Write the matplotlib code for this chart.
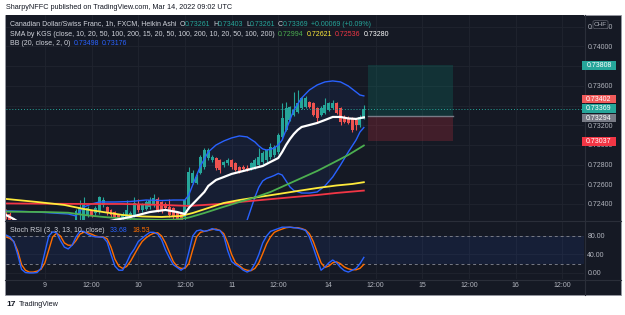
import numpy as np
import matplotlib
matplotlib.use('Agg')
import matplotlib.pyplot as plt
from matplotlib.patches import Rectangle, FancyBboxPatch
from matplotlib.lines import Line2D

plt.rcParams['font.family'] = ['Liberation Sans', 'DejaVu Sans']

W, H = 625, 315

# colours (TradingView dark theme)
BG = '#151924'
GRID = '#20242f'
SEP = '#2a2e39'
TXT = '#d1d4dc'
AXT = '#b2b5be'
TEAL = '#26a69a'
RED = '#ef5350'
BLUE = '#2962ff'
ORANGE = '#ff6d00'

# ---------------- data (bar index: 0 = Mar 9 00:00, 1h bars) ----------------
bar_idx = list(range(-10, 83))
ha_open = [0.72339, 0.72300, 0.72250, 0.72200, 0.72150, 0.72110, 0.72080, 0.72050, 0.72070, 0.72095,
           0.72120, 0.72150, 0.72170, 0.72185, 0.72165, 0.72140, 0.72120, 0.72140, 0.72180, 0.72300,
           0.72237, 0.72288, 0.72330, 0.72308, 0.72318, 0.72390, 0.72369, 0.72339, 0.72318, 0.72288,
           0.72255, 0.72268, 0.72260, 0.72288, 0.72390, 0.72339, 0.72350, 0.72369, 0.72390, 0.72450,
           0.72420, 0.72400, 0.72369, 0.72359, 0.72318, 0.72308, 0.72268, 0.72369, 0.72613, 0.72613,
           0.72715, 0.72776, 0.72867, 0.72847, 0.72867, 0.72847, 0.72796, 0.72816, 0.72847, 0.72816,
           0.72776, 0.72775, 0.72770, 0.72766, 0.72776, 0.72796, 0.72827, 0.72847, 0.72877, 0.72898,
           0.72928, 0.73081, 0.73152, 0.73253, 0.73304, 0.73335, 0.73375, 0.73385, 0.73436, 0.73426,
           0.73375, 0.73304, 0.73324, 0.73355, 0.73375, 0.73426, 0.73375, 0.73284, 0.73274, 0.73274,
           0.73253, 0.73202, 0.73261]
ha_high = [0.72350, 0.72320, 0.72260, 0.72210, 0.72160, 0.72120, 0.72090, 0.72110, 0.72140, 0.72170,
           0.72200, 0.72220, 0.72225, 0.72200, 0.72175, 0.72150, 0.72180, 0.72220, 0.72350, 0.72440,
           0.72470, 0.72380, 0.72340, 0.72380, 0.72480, 0.72470, 0.72380, 0.72350, 0.72330, 0.72300,
           0.72320, 0.72440, 0.72330, 0.72470, 0.72450, 0.72410, 0.72440, 0.72470, 0.72500, 0.72470,
           0.72430, 0.72420, 0.72450, 0.72370, 0.72330, 0.72320, 0.72460, 0.72776, 0.72745, 0.72700,
           0.72898, 0.72969, 0.72969, 0.72900, 0.72880, 0.72860, 0.72840, 0.72870, 0.72860, 0.72830,
           0.72790, 0.72800, 0.72800, 0.72830, 0.72870, 0.72969, 0.72935, 0.72960, 0.73020, 0.73000,
           0.73120, 0.73426, 0.73436, 0.73400, 0.73540, 0.73560, 0.73490, 0.73500, 0.73450, 0.73440,
           0.73390, 0.73395, 0.73477, 0.73440, 0.73456, 0.73436, 0.73385, 0.73300, 0.73290, 0.73285,
           0.73265, 0.73300, 0.73403]
ha_low = [0.72250, 0.72190, 0.72150, 0.72100, 0.72050, 0.72020, 0.72000, 0.72030, 0.72050, 0.72080,
          0.72100, 0.72130, 0.72150, 0.72120, 0.72090, 0.72080, 0.72100, 0.72120, 0.72160, 0.72190,
          0.72220, 0.72270, 0.72270, 0.72290, 0.72300, 0.72370, 0.72290, 0.72270, 0.72250, 0.72200,
          0.72230, 0.72250, 0.72240, 0.72270, 0.72320, 0.72320, 0.72340, 0.72350, 0.72370, 0.72320,
          0.72310, 0.72340, 0.72270, 0.72250, 0.72210, 0.72200, 0.72230, 0.72350, 0.72600, 0.72600,
          0.72700, 0.72760, 0.72850, 0.72830, 0.72750, 0.72715, 0.72780, 0.72800, 0.72760, 0.72730,
          0.72710, 0.72730, 0.72730, 0.72750, 0.72760, 0.72780, 0.72810, 0.72830, 0.72860, 0.72880,
          0.72910, 0.73060, 0.73140, 0.73240, 0.73290, 0.73320, 0.73360, 0.73370, 0.73370, 0.73290,
          0.73223, 0.73290, 0.73310, 0.73340, 0.73365, 0.73310, 0.73202, 0.73220, 0.73210, 0.73131,
          0.73152, 0.73180, 0.73261]
ha_close = [0.72270, 0.72220, 0.72170, 0.72120, 0.72080, 0.72050, 0.72030, 0.72090, 0.72120, 0.72150,
            0.72180, 0.72190, 0.72200, 0.72140, 0.72110, 0.72100, 0.72160, 0.72200, 0.72330, 0.72369,
            0.72390, 0.72359, 0.72288, 0.72359, 0.72470, 0.72440, 0.72308, 0.72288, 0.72268, 0.72237,
            0.72300, 0.72339, 0.72308, 0.72410, 0.72339, 0.72390, 0.72420, 0.72440, 0.72460, 0.72339,
            0.72330, 0.72360, 0.72288, 0.72268, 0.72240, 0.72237, 0.72440, 0.72725, 0.72715, 0.72674,
            0.72877, 0.72948, 0.72948, 0.72877, 0.72766, 0.72745, 0.72827, 0.72847, 0.72776, 0.72745,
            0.72725, 0.72760, 0.72755, 0.72816, 0.72847, 0.72877, 0.72918, 0.72948, 0.72979, 0.72979,
            0.73101, 0.73274, 0.73375, 0.73385, 0.73355, 0.73426, 0.73477, 0.73477, 0.73385, 0.73304,
            0.73274, 0.73375, 0.73406, 0.73426, 0.73426, 0.73324, 0.73233, 0.73233, 0.73223, 0.73152,
            0.73202, 0.73284, 0.73369]

# SMA by KGS lines (bar index, value)
white_x = [-10, -8, -6, 0, 7, 13, 18, 22, 27, 31, 34, 36, 37, 39, 41, 42, 44, 46, 48, 50,
           52, 54, 56, 58, 60, 61, 62, 63, 64, 65, 66, 68, 70, 72, 74, 76, 78, 80, 82]
white_y = [0.72288, 0.72247, 0.72196, 0.72135, 0.72135, 0.72196, 0.72237, 0.72268, 0.72318, 0.72339,
           0.72318, 0.72298, 0.72359, 0.72440, 0.72522, 0.72583, 0.72644, 0.72674, 0.72705, 0.72725,
           0.72745, 0.72766, 0.72786, 0.72827, 0.72867, 0.72928, 0.72999, 0.73060, 0.73111, 0.73152,
           0.73182, 0.73202, 0.73223, 0.73253, 0.73284, 0.73284, 0.73269, 0.73264, 0.73280]
green_x = [-10, 0, 6, 10, 15, 20, 25, 30, 34, 37, 41, 45, 50, 54, 58, 62, 66, 70, 74, 78, 82]
green_y = [0.72322, 0.72318, 0.72311, 0.72288, 0.72268, 0.72253, 0.72242, 0.72237, 0.72242, 0.72262,
           0.72308, 0.72359, 0.72420, 0.72466, 0.72522, 0.72593, 0.72664, 0.72735, 0.72816, 0.72898,
           0.72994]
yellow_x = [-10, -2, 5, 10, 15, 20, 25, 30, 35, 38, 42, 46, 50, 55, 60, 65, 70, 75, 79, 82]
yellow_y = [0.72451, 0.72420, 0.72390, 0.72349, 0.72318, 0.72288, 0.72273, 0.72268, 0.72278, 0.72308,
            0.72359, 0.72410, 0.72440, 0.72471, 0.72501, 0.72532, 0.72562, 0.72588, 0.72603, 0.72621]
red_x = [-10, 10, 20, 30, 37, 45, 50, 55, 60, 65, 70, 75, 82]
red_y = [0.72405, 0.72400, 0.72400, 0.72390, 0.72380, 0.72400, 0.72420, 0.72438, 0.72456, 0.72474,
         0.72491, 0.72512, 0.72536]

# Bollinger bands (20, 2)
bb_x = [-10, -6, -2, 2, 6, 8, 9, 10, 12, 14, 18, 22, 26, 30, 33, 36, 37, 38, 40, 42,
        44, 46, 48, 50, 52, 54, 55, 56, 57, 58, 59, 60, 61, 62, 63, 64, 66, 68, 70, 72,
        74, 76, 78, 80, 81, 82]
bb_upper = [0.72329, 0.72325, 0.72318, 0.72308, 0.72298, 0.72278, 0.72329, 0.72369, 0.72400, 0.72420,
            0.72420, 0.72425, 0.72440, 0.72435, 0.72440, 0.72440, 0.72491, 0.72593, 0.72786, 0.72928,
            0.72999, 0.73040, 0.73071, 0.73091, 0.73081, 0.73030, 0.72990, 0.72959, 0.72948, 0.72955,
            0.72969, 0.73000, 0.73050, 0.73152, 0.73253, 0.73355, 0.73477, 0.73558, 0.73609, 0.73640,
            0.73650, 0.73640, 0.73599, 0.73538, 0.73507, 0.73498]
bb_lower = [0.72150, 0.72140, 0.72130, 0.72120, 0.72125, 0.72120, 0.72110, 0.72100, 0.72095, 0.72090,
            0.72100, 0.72110, 0.72120, 0.72130, 0.72140, 0.72150, 0.72130, 0.72080, 0.71950, 0.71850,
            0.71800, 0.71800, 0.71880, 0.72050, 0.72237, 0.72470, 0.72570, 0.72634, 0.72660, 0.72674,
            0.72690, 0.72710, 0.72694, 0.72634, 0.72573, 0.72537, 0.72511, 0.72511, 0.72522, 0.72583,
            0.72674, 0.72796, 0.72928, 0.73050, 0.73131, 0.73176]

# Stoch RSI (3, 3, 13, 10)
stoch_k = [82, 78, 68, 40, 8, 1, 0, 0, 1, 10,
           45, 80, 89, 87, 70, 56, 52, 60, 78, 90,
           90, 84, 80, 78, 78, 77, 67, 40, 15, 6,
           6, 22, 40, 52, 68, 75, 82, 88, 88, 84,
           72, 50, 33, 18, 12, 6, 12, 45, 80, 91,
           93, 90, 92, 96, 93, 92, 80, 48, 25, 18,
           13, 6, 2, 6, 20, 40, 65, 80, 90, 93,
           96, 99, 99, 99, 98, 97, 95, 92, 78, 55,
           30, 6, 13, 22, 28, 22, 12, 5, 2, 6,
           10, 20, 33.68]
stoch_d = [78, 75, 68, 48, 18, 6, 2, 2, 4, 8,
           22, 50, 78, 86, 80, 65, 60, 60, 70, 84,
           88, 87, 84, 80, 78, 78, 74, 56, 30, 15,
           10, 14, 25, 40, 55, 68, 76, 82, 86, 87,
           80, 65, 45, 25, 14, 10, 10, 20, 50, 78,
           88, 90, 92, 94, 95, 92, 85, 65, 40, 22,
           16, 9, 6, 5, 10, 22, 42, 63, 78, 88,
           92, 95, 98, 99, 98, 98, 96, 93, 85, 68,
           45, 22, 12, 15, 22, 24, 20, 13, 9, 7,
           7, 10, 18.53]

# long position tool
pos_start, pos_end = 83, 105
entry, target, stop = 0.73294, 0.73808, 0.73037
last_price = 0.73369

# price scale badges
badge_vals = [0.73808, 0.73402, 0.73369, 0.73294, 0.73037]
badge_cols = [TEAL, '#f05b5b', TEAL, '#787b86', '#f23645']

# axes ticks
time_tick_pos = [0, 12, 24, 36, 48, 60, 73, 85, 97, 109, 121, 133]
time_tick_lbl = ['9', '12:00', '10', '12:00', '11', '12:00', '14', '12:00', '15', '12:00', '16', '12:00']
price_ticks = [0.724, 0.726, 0.728, 0.730, 0.732, 0.734, 0.736, 0.738, 0.740, 0.742]
price_hidden = [0.734, 0.738]   # labels fully covered by the badges
stoch_ticks = [0, 40, 80]

# ---------------- figure ----------------
fig = plt.figure(figsize=(W / 100, H / 100), dpi=100, facecolor='white')


def fx(px):
    return px / W


def fy(py):
    return 1 - py / H


fig.add_artist(Rectangle((fx(5), fy(295)), 616 / W, 280 / H, transform=fig.transFigure,
                         facecolor=BG, edgecolor='#9598a1', lw=0.6, zorder=-2))

ax = fig.add_axes([fx(6), fy(220), 578 / W, 205 / H])
ax2 = fig.add_axes([fx(6), fy(279), 578 / W, 58 / H], sharex=ax)
for a in (ax, ax2):
    a.set_facecolor(BG)
    for s in a.spines.values():
        s.set_visible(False)
    a.grid(True, color=GRID, lw=0.6)
    a.set_axisbelow(True)

ax.set_xlim(-10, 138.6)
ax.set_ylim(0.72237, 0.74320)
ax2.set_ylim(-13, 112.4)

# candles
bx = np.array(bar_idx)
o = np.array(ha_open)
hi = np.array(ha_high)
lo = np.array(ha_low)
c = np.array(ha_close)
cols = np.where(c >= o, TEAL, RED)
ax.vlines(bx, lo, hi, colors=cols, lw=0.8, zorder=2)
ax.bar(bx, np.maximum(np.abs(c - o), 0.00008), bottom=np.minimum(o, c), width=0.76,
       color=cols, lw=0, zorder=2)

# bollinger
ax.fill_between(bb_x, bb_lower, bb_upper, color=BLUE, alpha=0.07, lw=0, zorder=1)
ax.plot(bb_x, bb_upper, color=BLUE, lw=1.0, zorder=3)
ax.plot(bb_x, bb_lower, color=BLUE, lw=1.0, zorder=3)

# SMAs
ax.plot(red_x, red_y, color='#f23645', lw=1.3, zorder=3)
ax.plot(yellow_x, yellow_y, color='#ffeb3b', lw=1.3, zorder=3)
ax.plot(green_x, green_y, color='#4caf50', lw=1.3, zorder=3)
ax.plot(white_x, white_y, color='white', lw=1.6, zorder=4)

# current price line
ax.axhline(last_price, color=TEAL, lw=0.7, ls=(0, (1, 2)), zorder=3)

# position tool
ax.add_patch(Rectangle((pos_start, entry), pos_end - pos_start, target - entry,
                       facecolor='#089981', alpha=0.2, lw=0, zorder=1))
ax.add_patch(Rectangle((pos_start, stop), pos_end - pos_start, entry - stop,
                       facecolor='#f23645', alpha=0.2, lw=0, zorder=1))
ax.plot([pos_start, pos_end], [entry, entry], color='#787b86', lw=1.0, zorder=2)

# price axis
ax.yaxis.tick_right()
ax.set_yticks(price_ticks, ['' if v in price_hidden else f'{v:.5f}' for v in price_ticks])
ax.tick_params(axis='y', length=0, pad=2.4, labelsize=5, labelcolor=AXT)
ax.tick_params(axis='x', length=0, labelbottom=False)

# stoch pane
ax2.axhspan(20, 80, color=BLUE, alpha=0.09, lw=0)
ax2.axhline(80, color='#787b86', lw=0.7, ls=(0, (3, 3)))
ax2.axhline(20, color='#787b86', lw=0.7, ls=(0, (3, 3)))
ax2.plot(bar_idx, stoch_d, color=ORANGE, lw=1.0, zorder=3)
ax2.plot(bar_idx, stoch_k, color=BLUE, lw=1.0, zorder=3)
ax2.yaxis.tick_right()
ax2.set_yticks(stoch_ticks, [f'{v:.2f}' for v in stoch_ticks])
ax2.tick_params(axis='y', length=0, pad=2.4, labelsize=5, labelcolor=AXT)
ax2.set_xticks(time_tick_pos, time_tick_lbl)
ax2.tick_params(axis='x', length=0, pad=2.5, labelsize=5, labelcolor=AXT)

# separators
fig.add_artist(Line2D([fx(5), fx(621)], [fy(220.5), fy(220.5)], transform=fig.transFigure, color=SEP, lw=0.8))
fig.add_artist(Line2D([fx(5), fx(621)], [fy(279.5), fy(279.5)], transform=fig.transFigure, color=SEP, lw=0.8))
fig.add_artist(Line2D([fx(584.5), fx(584.5)], [fy(15), fy(295)], transform=fig.transFigure, color=SEP, lw=0.8))

fig.canvas.draw()
rend = fig.canvas.get_renderer()

# price badges, stacked around the last price
nat = [H - ax.transData.transform((0, v))[1] for v in badge_vals]
ref = badge_vals.index(last_price)
ypos = list(nat)
gap = 9.5
for k in range(ref - 1, -1, -1):
    ypos[k] = min(nat[k], ypos[k + 1] - gap)
for k in range(ref + 1, len(badge_vals)):
    ypos[k] = max(nat[k], ypos[k - 1] + gap)
for v, col, yy in zip(badge_vals, badge_cols, ypos):
    fig.add_artist(Rectangle((fx(582), fy(yy + 4.3)), 34 / W, 8.6 / H, transform=fig.transFigure,
                             facecolor=col, lw=0, zorder=5))
    fig.text(fx(599), fy(yy), f'{v:.5f}', color='white', fontsize=5, ha='center', va='center', zorder=6)

# CHF box
fig.add_artist(FancyBboxPatch((fx(593), fy(28.5)), 15 / W, 8 / H, boxstyle='round,pad=0,rounding_size=0.004',
                              transform=fig.transFigure, facecolor=BG, edgecolor='#50535e', lw=0.6, zorder=5))
fig.text(fx(600.5), fy(24.5), 'CHF', color=AXT, fontsize=4.6, ha='center', va='center', zorder=6)


def text_row(x, y, parts, size=5.0):
    for s, col, g in parts:
        t = fig.text(fx(x), fy(y), s, color=col, fontsize=size, ha='left', va='center', zorder=6)
        x += t.get_window_extent(rend).width + g


text_row(10, 24, [('Canadian Dollar/Swiss Franc, 1h, FXCM, Heikin Ashi', TXT, 3),
                  ('O', TXT, 0), ('0.73261', TEAL, 2.5), ('H', TXT, 0), ('0.73403', TEAL, 2.5),
                  ('L', TXT, 0), ('0.73261', TEAL, 2.5), ('C', TXT, 0), ('0.73369', TEAL, 2.5),
                  ('+0.00069 (+0.09%)', TEAL, 0)])
text_row(10, 34, [('SMA by KGS (close, 10, 20, 50, 100, 200, 15, 20, 50, 100, 200, 10, 20, 50, 100, 200)', TXT, 3),
                  ('0.72994', '#4caf50', 3), ('0.72621', '#ffeb3b', 3), ('0.72536', '#f23645', 3),
                  ('0.73280', 'white', 0)])
text_row(10, 43.5, [('BB (20, close, 2, 0)', TXT, 3), ('0.73498', BLUE, 3), ('0.73176', BLUE, 0)])
text_row(10, 230, [('Stoch RSI (3, 3, 13, 10, close)', TXT, 5), ('33.68', BLUE, 5), ('18.53', ORANGE, 0)])

# header / footer
fig.text(fx(6), fy(7.5), 'SharpyNFFC published on TradingView.com, Mar 14, 2022 09:02 UTC',
         color='#131722', fontsize=5.2, ha='left', va='center')
fig.text(fx(6), fy(304), '17', color='#131722', fontsize=6, fontweight='bold', ha='left', va='center')
fig.text(fx(19), fy(304), 'TradingView', color='#131722', fontsize=5.2, ha='left', va='center')

fig.savefig('out.png', dpi=100, facecolor='white')
